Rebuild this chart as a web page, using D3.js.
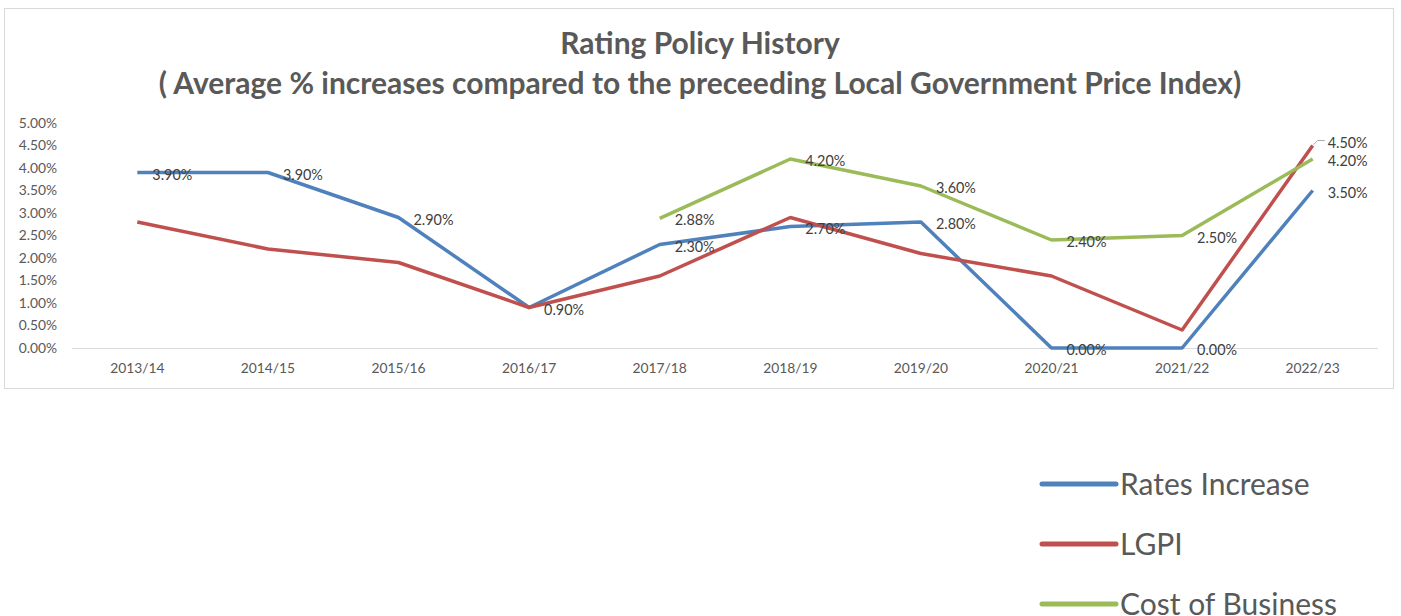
<!DOCTYPE html>
<html>
<head>
<meta charset="utf-8">
<script src="https://d3js.org/d3.v7.min.js"></script>
<style>
  body { margin: 0; background: #fff; }
  svg text { font-family: Lato, "Open Sans", sans-serif; }
</style>
</head>
<body>
<svg id="chart" width="1401" height="616"></svg>
<script>
// data
var years = ["2013/14","2014/15","2015/16","2016/17","2017/18","2018/19","2019/20","2020/21","2021/22","2022/23"];
var ratesIncrease = [3.9, 3.9, 2.9, 0.9, 2.3, 2.7, 2.8, 0.0, 0.0, 3.5];
var lgpi = [2.8, 2.2, 1.9, 0.9, 1.6, 2.9, 2.1, 1.6, 0.4, 4.5];
var costOfBusiness = [null, null, null, null, 2.88, 4.2, 3.6, 2.4, 2.5, 4.2];
var yTicks = [0, 0.5, 1, 1.5, 2, 2.5, 3, 3.5, 4, 4.5, 5];

var series = [
  {name: "Rates Increase", values: ratesIncrease, color: "#4f81bd", labels: "all"},
  {name: "LGPI", values: lgpi, color: "#c0504d", labels: "last"},
  {name: "Cost of Business", values: costOfBusiness, color: "#9bbb59", labels: "all"}
];

var svg = d3.select("#chart");

// chart frame
svg.append("rect").attr("x", 4.5).attr("y", 8.5).attr("width", 1389).attr("height", 380)
  .attr("fill", "#fff").attr("stroke", "#d9d9d9");

// title
var title = svg.append("text").attr("text-anchor", "middle").attr("fill", "#595959")
  .style("font-size", "30px").style("font-weight", "bold");
title.append("tspan").attr("x", 700).attr("y", 54).text("Rating Policy History");
title.append("tspan").attr("x", 700).attr("y", 94)
  .text("( Average % increases compared to the preceeding Local Government Price Index)");

var x = d3.scaleBand().domain(years).range([72, 1378]);
var y = d3.scaleLinear().domain([0, 5]).range([348, 123]);
var cx = function(i) { return x(years[i]) + x.bandwidth() / 2; };

// y axis labels
svg.append("g").selectAll("text").data(yTicks).join("text")
  .attr("x", 57).attr("y", d => y(d)).attr("dy", "0.35em")
  .attr("text-anchor", "end").attr("fill", "#595959").style("font-size", "13.8px")
  .text(d => d.toFixed(2) + "%");

// x axis
svg.append("line").attr("x1", 72).attr("x2", 1378).attr("y1", 348.5).attr("y2", 348.5)
  .attr("stroke", "#d9d9d9").attr("stroke-width", 1.2);
svg.append("g").selectAll("text").data(years).join("text")
  .attr("x", (d, i) => cx(i)).attr("y", 373).attr("text-anchor", "middle")
  .attr("fill", "#595959").style("font-size", "13.8px").text(d => d);

var line = d3.line()
  .defined(d => d != null)
  .x((d, i) => cx(i))
  .y(d => y(d));

series.forEach(function(s) {
  svg.append("path").datum(s.values)
    .attr("d", line)
    .attr("fill", "none").attr("stroke", s.color).attr("stroke-width", 3.5)
    .attr("stroke-linejoin", "round");
});

// data labels
series.forEach(function(s) {
  var pts = s.values.map((v, i) => ({v: v, i: i})).filter(p => p.v != null);
  if (s.labels === "last") pts = pts.slice(-1);
  svg.append("g").selectAll("text").data(pts).join("text")
    .attr("x", p => cx(p.i) + 15)
    .attr("y", p => y(p.v) + (s.labels === "last" ? -3 : 2))
    .attr("dy", "0.35em")
    .attr("fill", "#404040").style("font-size", "14.4px")
    .text(p => p.v.toFixed(2) + "%");
  if (s.labels === "last") {
    var p = pts[0];
    svg.append("path")
      .attr("d", "M" + (cx(p.i) + 1) + "," + (y(p.v) - 1) + "L" + (cx(p.i) + 5) + "," + (y(p.v) - 5) + "L" + (cx(p.i) + 12) + "," + (y(p.v) - 5))
      .attr("fill", "none").attr("stroke", "#a6a6a6").attr("stroke-width", 1);
  }
});

// legend
var legend = svg.append("g").selectAll("g").data(series).join("g")
  .attr("transform", (d, i) => "translate(0," + (484 + i * 60) + ")");
legend.append("line").attr("x1", 1042).attr("x2", 1116).attr("y1", 0).attr("y2", 0)
  .attr("stroke", d => d.color).attr("stroke-width", 5).attr("stroke-linecap", "round");
legend.append("text").attr("x", 1120).attr("y", 0).attr("dy", "0.35em")
  .attr("fill", "#595959").style("font-size", "30px").text(d => d.name);
</script>
</body>
</html>
